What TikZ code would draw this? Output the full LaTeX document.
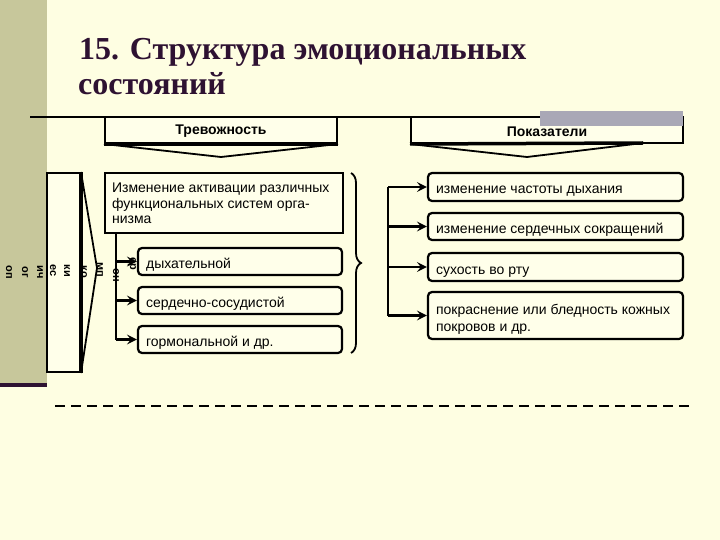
\documentclass[tikz,border=0pt]{standalone}
\usepackage{fontspec}
\setmainfont{Liberation Sans}
\newfontfamily\titlefont{Liberation Serif}
\usetikzlibrary{arrows.meta,decorations.pathreplacing}
\definecolor{cream}{HTML}{FEFEE2}
\definecolor{boxfill}{HTML}{FFFFEA}
\definecolor{khaki}{HTML}{C7C79B}
\definecolor{plum}{HTML}{2E1232}
\definecolor{barblue}{HTML}{A9A8B6}
\tikzset{
  headbox/.style={draw, line width=2pt, fill=boxfill},
  headtext/.style={font=\bfseries\fontsize{14}{16}\selectfont},
  mainbox/.style={draw, line width=2.2pt, fill=boxfill},
  itembox/.style={draw, line width=2.2pt, rounded corners=4pt, fill=boxfill},
  itemtext/.style={anchor=base west, align=left, inner sep=0pt, font=\fontsize{14}{17}\selectfont},
  feed/.style={line width=2.4pt, -{Stealth[length=10pt,width=10pt,inset=4pt]}},
  frag/.style={font=\bfseries\fontsize{11}{12}\selectfont, rotate=-90, inner sep=0pt}
}
\begin{document}
\begin{tikzpicture}[x=1pt, y=-1pt]
  \fill[cream] (0,0) rectangle (720,540);
  \useasboundingbox (0,0) rectangle (720,540);
  \fill[khaki] (0,0) rectangle (47,383);
  \fill[plum] (0,383) rectangle (47,387);
  % title
  \node[anchor=base west, inner sep=0pt, text=plum, font=\titlefont\bfseries\fontsize{32}{36}\selectfont]
    (title1) at (79,60) {15. Структура эмоциональных};
  \node[anchor=base west, inner sep=0pt, text=plum, font=\titlefont\bfseries\fontsize{32}{36}\selectfont]
    (title2) at (78,95) {состояний};
  \draw[line width=2pt] (30,117) -- (683,117);
  % headers
  \node[headbox, minimum width=232pt, minimum height=26pt] (anx) at (221,130) {};
  \draw[line width=3.5pt] (anx.south west) -- (anx.south east);
  \draw[line width=1.8pt] (anx.south west) -- (221,157) -- (anx.south east);
  \node[headtext] (anxt) at ([yshift=-1.5pt]anx.center) {Тревожность};
  \node[headbox, minimum width=272pt, minimum height=26pt] (ind) at (547,130) {};
  \fill[barblue] (540,111) rectangle (683,126);
  \draw[line width=3.5pt] (ind.south west) -- (643,143);
  \draw[line width=1.8pt] (ind.south west) -- (527,157) -- (643,143);
  \node[headtext] (indt) at ([yshift=-1.5pt]ind.center) {Показатели};
  % left column
  \node[draw, line width=2pt, fill=boxfill, minimum width=33pt, minimum height=199pt] (comp) at (63.5,272.5) {};
  \draw[line width=3.5pt] (comp.north east) -- (comp.south east);
  \draw[line width=1.8pt] (comp.north east) -- (97,268) -- (comp.south east);
  \foreach \txt/\x/\y [count=\i] in {оп/9/272, ог/25/272, ич/40/272, ес/53/271, ки/67/271,
      ко/84/272, мп/100/270, он/116/275, ер/132/264}
    \node[frag] (frag\i) at (\x,\y) {\txt};
  % activation
  \node[mainbox, minimum width=238pt, minimum height=60pt] (act) at (224,203) {};
  \node[itemtext, font=\fontsize{14}{16}\selectfont] (actt) at ([xshift=8pt]act.west |- 0,224)
    {Изменение активации различных\\функциональных систем орга-\\низма};
  \foreach \n/\y/\txt in {sys1/261.5/дыхательной, sys2/300.5/сердечно-сосудистой, sys3/339.5/гормональной и др.}{
    \node[itembox, minimum width=204pt, minimum height=27pt] (\n) at (240,\y) {};
    \node[itemtext] (\n t) at ([xshift=9pt, yshift=-6.5pt]\n.west) {\txt};
  }
  \coordinate (ltop) at (116,233);
  \draw[line width=2.4pt] (ltop) -- (ltop |- sys3.west);
  \foreach \n in {sys1,sys2,sys3}
    \draw[feed] (ltop |- \n.west) -- (\n.west);
  \draw[line width=1.8pt, decorate, decoration={brace, amplitude=10pt}] (351,173) -- (351,353);
  % indicators
  \foreach \n/\y/\h/\txt in {sign1/187/28/изменение частоты дыхания, sign2/226.5/27/изменение сердечных сокращений,
      sign3/267/28/сухость во рту}{
    \node[itembox, minimum width=255pt, minimum height=\h pt] (\n) at (555.5,\y) {};
    \node[itemtext] (\n t) at ([xshift=9pt, yshift=-7pt]\n.west) {\txt};
  }
  \node[itembox, minimum width=255pt, minimum height=47pt] (sign4) at (555.5,315.5) {};
  \node[itemtext] (sign4t) at ([xshift=9pt]sign4.west |- 0,331)
    {покраснение или бледность кожных\\покровов и др.};
  \coordinate (rtop) at (388,187);
  \draw[line width=2.4pt] (rtop) -- (rtop |- sign4.west);
  \foreach \n in {sign1,sign2,sign3,sign4}
    \draw[feed] (rtop |- \n.west) -- (\n.west);
  \draw[line width=2pt, dash pattern=on 10pt off 6pt] (55,406) -- (690,406);
\end{tikzpicture}
\end{document}
